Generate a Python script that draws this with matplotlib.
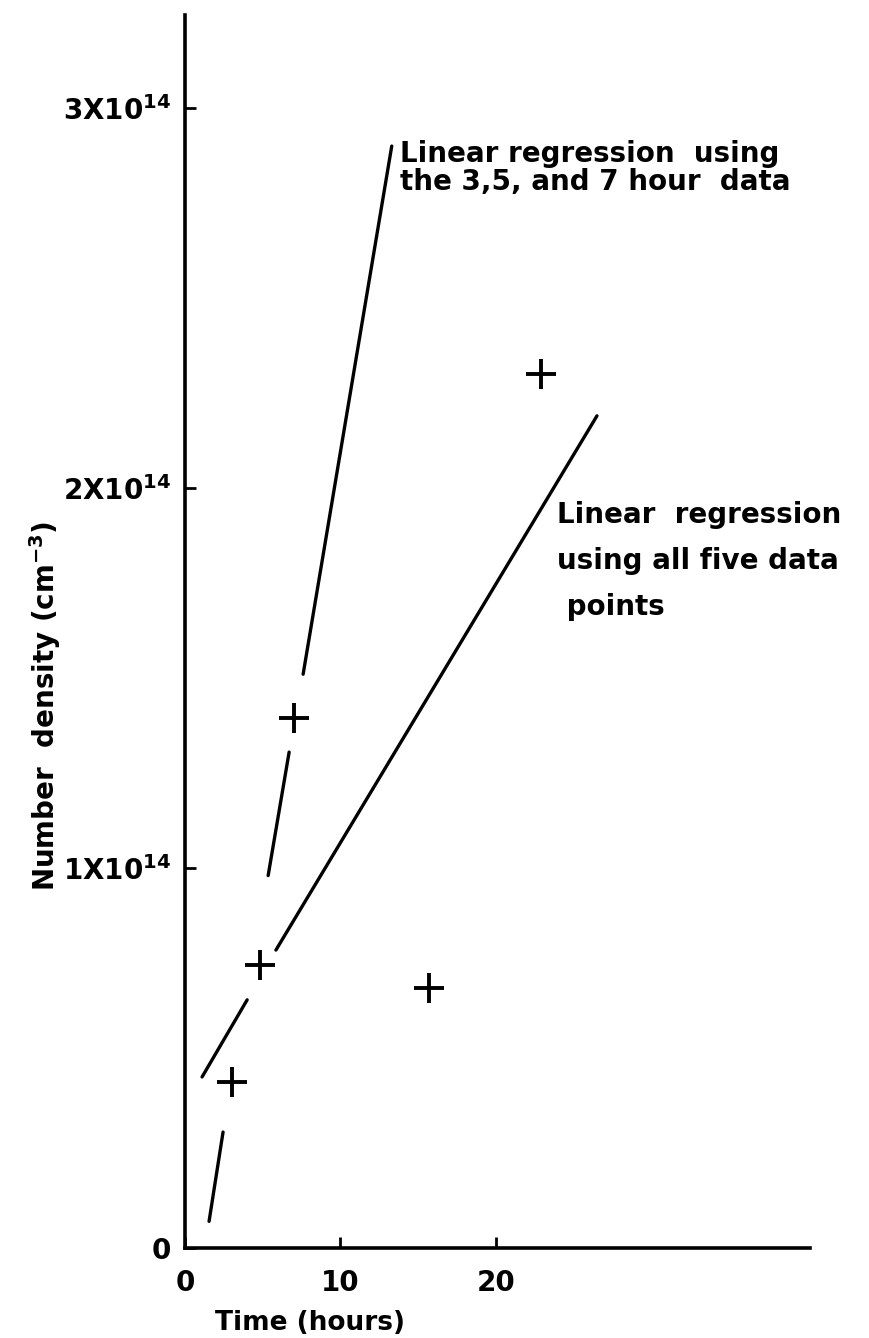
import matplotlib
matplotlib.use("Agg")
import matplotlib.pyplot as plt

# 폰트 설정 (손글씨 레터링 느낌으로 굵게)
plt.rcParams["font.family"] = "DejaVu Sans"
plt.rcParams["font.weight"] = "bold"
plt.rcParams["axes.labelweight"] = "bold"
plt.rcParams["mathtext.fontset"] = "custom"
plt.rcParams["mathtext.rm"] = "DejaVu Sans:bold"
plt.rcParams["mathtext.it"] = "DejaVu Sans:bold"
plt.rcParams["mathtext.bf"] = "DejaVu Sans:bold"
plt.rcParams["mathtext.default"] = "rm"

# 측정 데이터 (그림에서 읽은 값, 밀도 단위: 1e14 cm^-3)
time_hours = [3.0, 4.8, 7.0, 15.7, 22.9]
density = [0.437, 0.745, 1.395, 0.684, 2.30]

# 3,5,7시간 데이터 회귀선 (끊어진 구간의 끝점)
fit357_t = [[1.55, 2.45], [5.35, 6.7], [7.6, 13.3]]
fit357_n = [[0.07, 0.305], [0.98, 1.305], [1.51, 2.90]]

# 5개 데이터 전체 회귀선
fitall_t = [[1.1, 4.0], [5.85, 26.5]]
fitall_n = [[0.45, 0.653], [0.784, 2.19]]

# 축 눈금
xticks = [0, 10, 20]
xtick_labels = ["0", "10", "20"]
yticks = [0, 1, 2, 3]
ytick_labels = ["0", r"1X10$^{14}$", r"2X10$^{14}$", r"3X10$^{14}$"]

fig = plt.figure(figsize=(8.7, 13.38), dpi=100)
ax = fig.add_axes([0.2126, 0.0673, 0.7184, 0.9215])

# 회귀선 그리기
for t, n in zip(fit357_t, fit357_n):
    ax.plot(t, n, color="black", lw=2.4, solid_capstyle="round")
for t, n in zip(fitall_t, fitall_n):
    ax.plot(t, n, color="black", lw=2.4, solid_capstyle="round")

# 데이터 포인트 (+)
ax.plot(time_hours, density, linestyle="none", marker="+",
        markersize=22, markeredgewidth=2.8, color="black")

# 주석 텍스트
ax.text(13.8, 2.915, "Linear regression  using\nthe 3,5, and 7 hour  data",
        fontsize=20, ha="left", va="top", linespacing=1.0)
ax.text(23.9, 1.965, "Linear  regression\nusing all five data\n points",
        fontsize=20, ha="left", va="top", linespacing=1.8)

ax.set_xlim(0, 40.2)
ax.set_ylim(0, 3.245)

ax.set_xticks(xticks)
ax.set_xticklabels(xtick_labels)
ax.set_yticks(yticks)
ax.set_yticklabels(ytick_labels)
ax.tick_params(axis="both", direction="in", length=8, width=2, labelsize=20)
ax.tick_params(axis="x", pad=15)
ax.tick_params(axis="y", pad=10)

for side in ["top", "right"]:
    ax.spines[side].set_visible(False)
for side in ["left", "bottom"]:
    ax.spines[side].set_linewidth(2.6)

ax.set_xlabel("Time (hours)", fontsize=19)
ax.xaxis.set_label_coords(0.2, -0.05)
ax.set_ylabel(r"Number  density (cm$^{-3}$)", fontsize=20)
ax.yaxis.set_label_coords(-0.195, 0.44)

fig.savefig("out.png", dpi=100, facecolor="white")
